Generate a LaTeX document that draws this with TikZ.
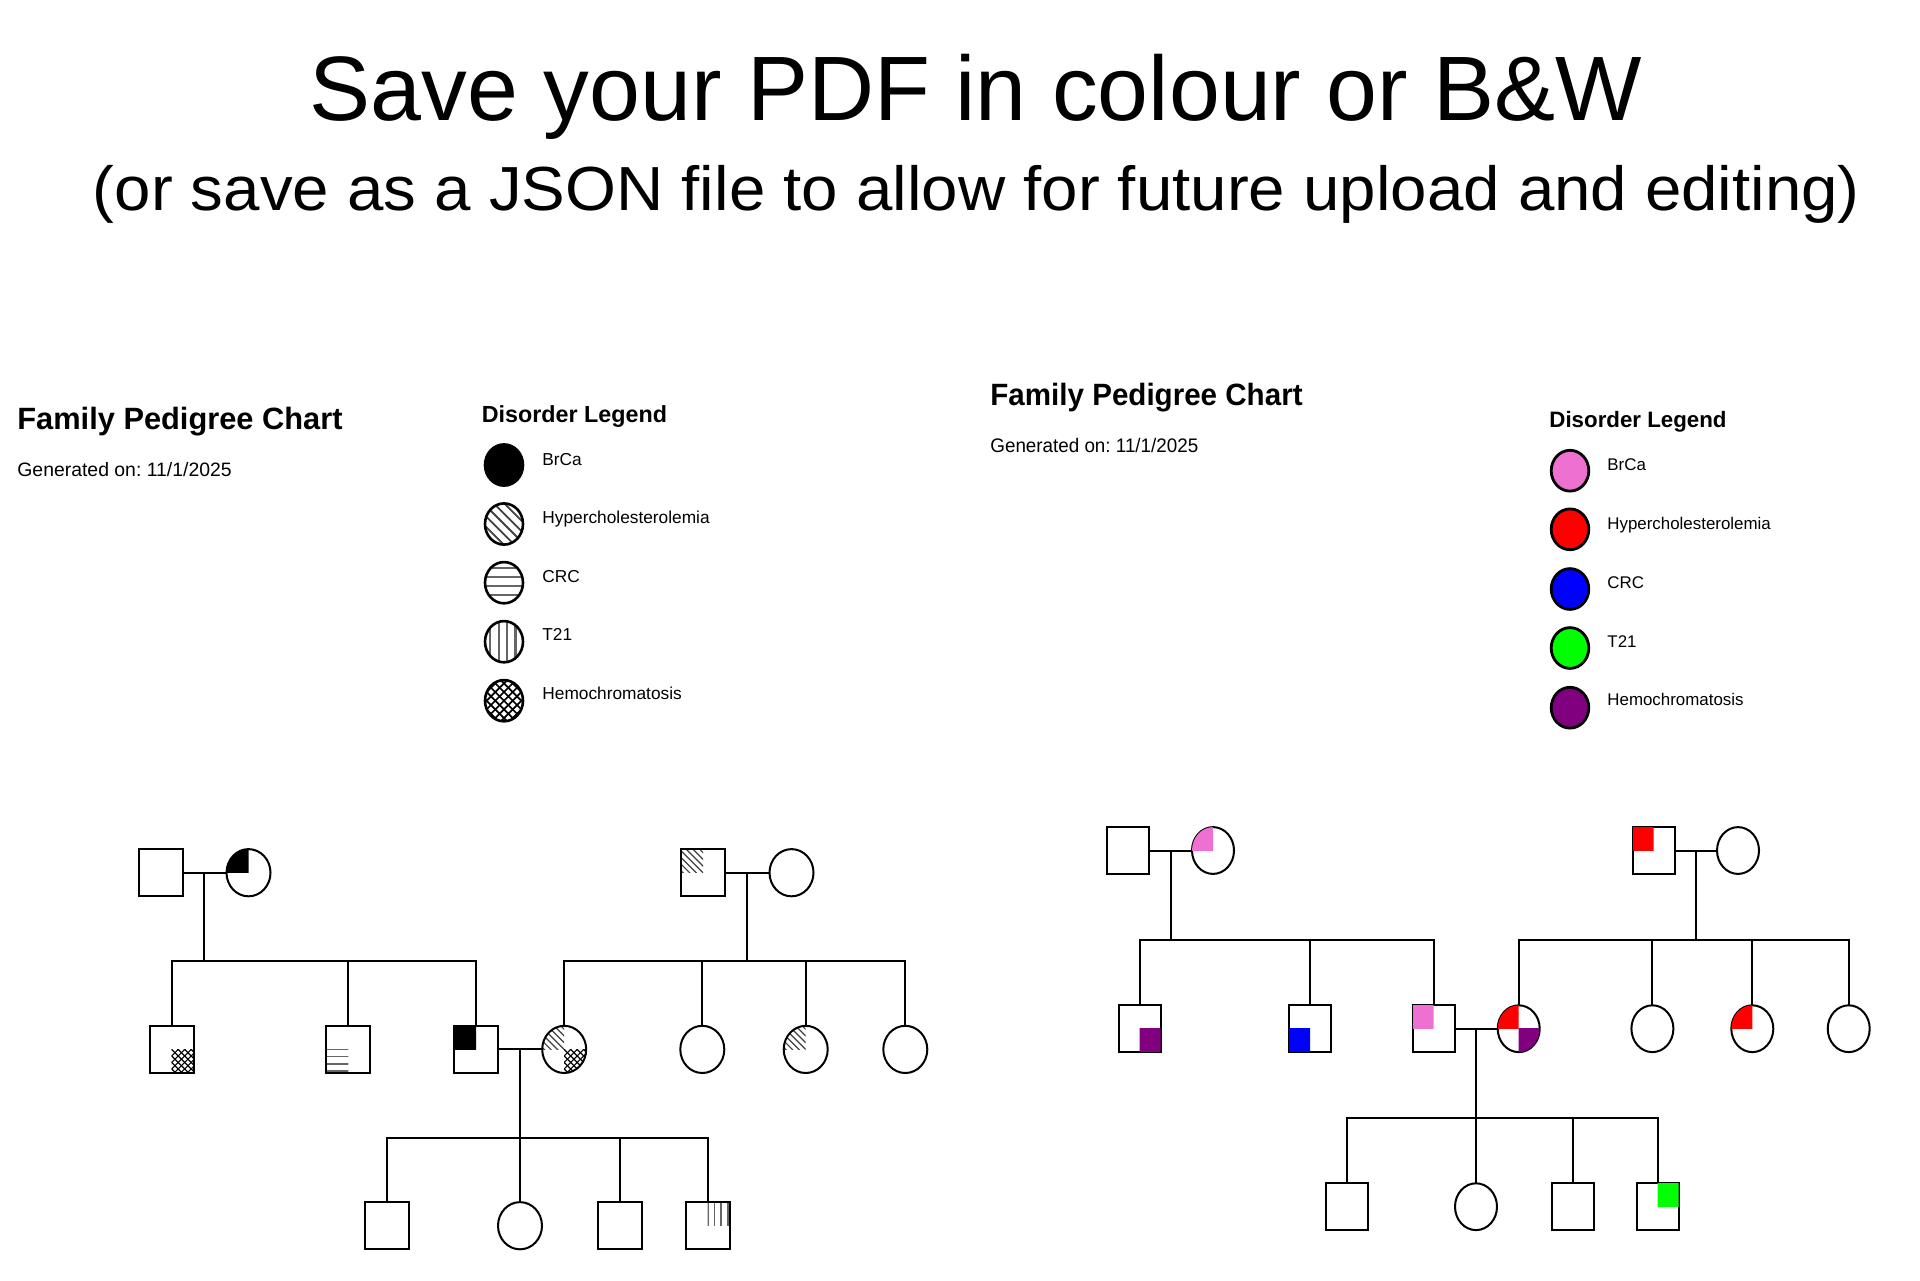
\documentclass[tikz,border=0pt]{standalone}
\usepackage{fontspec}
\usetikzlibrary{shapes.geometric}
\setmainfont{Liberation Sans}
\newfontfamily\wideface[FakeStretch=1.05]{Liberation Sans}
\newfontfamily\narrowface[FakeStretch=0.96]{Liberation Sans}
\definecolor{brca}{RGB}{238,112,208}
\definecolor{hemo}{RGB}{128,0,128}
\def\ppb{path picture bounding box}
\newcommand{\qtr}[2]{\begin{scope}\clip (\ppb.center) rectangle (\ppb.#1); #2\end{scope}}
\newcommand{\lnfill}[1]{\fill[#1] (\ppb.south west) rectangle (\ppb.north east);}
\newcommand{\lndiag}[2]{\begin{scope}[shift={(\ppb.center)}]
	\foreach \d in {-12,...,12} \draw[black!75,line width=#2] (\d*#1-40,-40) -- (\d*#1+40,40);
	\end{scope}}
\newcommand{\lncross}[2]{\begin{scope}[shift={(\ppb.center)}]
	\foreach \d in {-12,...,12} {
		\draw[black,line width=#2] (\d*#1-40,-40) -- (\d*#1+40,40);
		\draw[black,line width=#2] (\d*#1+40,-40) -- (\d*#1-40,40);
	}
	\end{scope}}
\newcommand{\lnhor}[3][0]{\begin{scope}[shift={(\ppb.center)}]
	\foreach \d in {-4,...,4} \draw[black!60,line width=#3] (-40,\d*#2+#1) -- (40,\d*#2+#1);
	\end{scope}}
\newcommand{\lnver}[3][0]{\begin{scope}[shift={(\ppb.center)}]
	\foreach \d in {-4,...,4} \draw[black!60,line width=#3] (\d*#2+#1,-40) -- (\d*#2+#1,40);
	\end{scope}}
\tikzset{
	male/.style={draw,rectangle,inner sep=0pt,outer sep=0pt,line width=1pt,minimum width=22pt,minimum height=23.6pt},
	female/.style={male,ellipse},
	rmale/.style={male,minimum width=21pt,minimum height=23.4pt},
	rfemale/.style={rmale,ellipse},
	topfill/.style={postaction={draw=none,path picture={#1}}},
	link/.style={line width=1pt,line join=miter},
	legl/.style={female,line width=1.3pt,minimum width=19pt,minimum height=20.6pt},
	legr/.style={legl,line width=1.4pt,minimum width=18.8pt,minimum height=20.4pt},
	headline/.style={anchor=base,inner sep=0pt,font=\fontsize{45.75}{50}\selectfont},
	subline/.style={anchor=base,inner sep=0pt,font=\wideface\fontsize{31.15}{34}\selectfont},
	charttitle/.style={anchor=base west,inner sep=0pt,font=\fontsize{15.4}{18}\selectfont\bfseries},
	rcharttitle/.style={anchor=base west,inner sep=0pt,font=\narrowface\fontsize{15.4}{18}\selectfont\bfseries},
	chartdate/.style={anchor=base west,inner sep=0pt,font=\fontsize{9.7}{12}\selectfont},
	rchartdate/.style={anchor=base west,inner sep=0pt,font=\narrowface\fontsize{9.8}{12}\selectfont},
	leghead/.style={anchor=base west,inner sep=0pt,font=\fontsize{11.65}{14}\selectfont\bfseries},
	rleghead/.style={anchor=base west,inner sep=0pt,font=\fontsize{11.15}{14}\selectfont\bfseries},
	legtext/.style={anchor=base west,inner sep=0pt,font=\fontsize{8.65}{10}\selectfont},
	rlegtext/.style={anchor=base west,inner sep=0pt,font=\fontsize{8.45}{10}\selectfont},
}
\frenchspacing
\begin{document}
\begin{tikzpicture}[x=0.5pt,y=-0.5pt]
	\useasboundingbox (0,0) rectangle (1920,1280);
	% headings
	\node[headline] (head) at (976,120) {Save your PDF in colour or B\&W};
	\node[subline] (sub) at (976.5,210) {(or save as a JSON file to allow for future upload and editing)};
	% left chart text
	\node[charttitle] (ltitle) at (17,429.3) {Family Pedigree Chart};
	\node[chartdate] (ldate) at (17,476.3) {Generated on: 11/1/2025};
	\node[leghead] (llegend) at (481.5,422) {Disorder Legend};
	\node[legl,fill=black] (lc1) at (504,465) {};
	\node[legl,path picture={\lndiag{10.4}{0.9pt}}] (lc2) at (504,524) {};
	\node[legl,path picture={\lnhor[3.3]{9}{1.1pt}}] (lc3) at (504,582.7) {};
	\node[legl,path picture={\lnver[3]{8.4}{1.1pt}}] (lc4) at (504,641.7) {};
	\node[legl,path picture={\lncross{8.7}{0.85pt}}] (lc5) at (504,700.7) {};
	\node[legtext] (lt1) at (542,465) {BrCa};
	\node[legtext] (lt2) at (542,523) {Hypercholesterolemia};
	\node[legtext] (lt3) at (542,582.3) {CRC};
	\node[legtext] (lt4) at (542,640.7) {T21};
	\node[legtext] (lt5) at (542,699) {Hemochromatosis};
	% left chart generation 1
	\node[male] (lgf1) at (160.5,872.7) {};
	\node[female,path picture={\qtr{north west}{\lnfill{black}}}] (lgm1) at (248.5,872.7) {};
	\node[male,path picture={\qtr{north west}{\lndiag{6.7}{0.6pt}}}] (lgf2) at (703,872.7) {};
	\node[female] (lgm2) at (791.5,872.7) {};
	% left chart generation 2
	\node[male,path picture={\qtr{south east}{\lncross{6.5}{0.6pt}}}] (lk1) at (171.7,1049.4) {};
	\node[male,path picture={\qtr{south west}{\lnhor{7.2}{0.8pt}}}] (lk2) at (348.3,1049.4) {};
	\node[male,path picture={\qtr{north west}{\lnfill{black}}}] (lk3) at (476,1049.4) {};
	\node[female,path picture={\qtr{north west}{\lndiag{6.7}{0.6pt}}\qtr{south east}{\lncross{6.5}{0.6pt}}}] (lk4) at (564.2,1049.4) {};
	\node[female] (lk5) at (702.3,1049.4) {};
	\node[female,path picture={\qtr{north west}{\lndiag{6.7}{0.6pt}}}] (lk6) at (805.7,1049.4) {};
	\node[female] (lk7) at (905.3,1049.4) {};
	% left chart generation 3
	\node[male] (lg1) at (387,1225.7) {};
	\node[female] (lg2) at (520,1225.7) {};
	\node[male] (lg3) at (620,1225.7) {};
	\node[male,path picture={\qtr{north east}{\lnver{6.7}{0.8pt}}}] (lg4) at (707.7,1225.7) {};
	% left chart lines
	\coordinate (lbar1) at (204.3,961);
	\coordinate (lbar2) at (747,961);
	\coordinate (lbar3) at (520,1137.7);
	\draw[link] (lgf1) -- (lgm1);
	\draw[link] (lgf2) -- (lgm2);
	\draw[link] (lk3) -- (lk4);
	\draw[link] (lbar1 |- lgf1) -- (lbar1);
	\draw[link] (lbar2 |- lgf2) -- (lbar2);
	\draw[link] (lbar3 |- lk3) -- (lbar3);
	\foreach \k in {lk1,lk2,lk3} \draw[link] (\k.north) |- (lbar1);
	\foreach \k in {lk4,lk5,lk6,lk7} \draw[link] (\k.north) |- (lbar2);
	\foreach \k in {lg1,lg2,lg3,lg4} \draw[link] (\k.north) |- (lbar3);
	% right chart text
	\node[rcharttitle] (rtitle) at (990,405) {Family Pedigree Chart};
	\node[rchartdate] (rdate) at (990,452.5) {Generated on: 11/1/2025};
	\node[rleghead] (rlegend) at (1549,427.5) {Disorder Legend};
	\foreach \n/\cy/\by/\col/\txt in {1/470.7/470/brca/BrCa,2/529.3/529/red/Hypercholesterolemia,3/589/588.3/blue/CRC,4/648/647/green/T21,5/707.7/705.7/hemo/Hemochromatosis} {
		\node[legr,fill=\col] (rc\n) at (1570,\cy) {};
		\node[rlegtext] (rt\n) at (1607,\by) {\txt};
	}
	% right chart generation 1
	\node[rmale] (rgf1) at (1128,850.5) {};
	\node[rfemale,topfill={\qtr{north west}{\lnfill{brca}}}] (rgm1) at (1213,850.5) {};
	\node[rmale,topfill={\qtr{north west}{\lnfill{red}}}] (rgf2) at (1653.5,850.5) {};
	\node[rfemale] (rgm2) at (1738,850.5) {};
	% right chart generation 2
	\node[rmale,topfill={\qtr{south east}{\lnfill{hemo}}}] (rk1) at (1139.5,1028.7) {};
	\node[rmale,topfill={\qtr{south west}{\lnfill{blue}}}] (rk2) at (1310,1028.7) {};
	\node[rmale,topfill={\qtr{north west}{\lnfill{brca}}}] (rk3) at (1433.7,1028.7) {};
	\node[rfemale,topfill={\qtr{north west}{\lnfill{red}}\qtr{south east}{\lnfill{hemo}}}] (rk4) at (1518.7,1028.7) {};
	\node[rfemale] (rk5) at (1652.4,1028.7) {};
	\node[rfemale,topfill={\qtr{north west}{\lnfill{red}}}] (rk6) at (1752.3,1028.7) {};
	\node[rfemale] (rk7) at (1848.7,1028.7) {};
	% right chart generation 3
	\node[rmale] (rg1) at (1347,1206.7) {};
	\node[rfemale] (rg2) at (1476,1206.7) {};
	\node[rmale] (rg3) at (1572.7,1206.7) {};
	\node[rmale,topfill={\qtr{north east}{\lnfill{green}}}] (rg4) at (1657.7,1206.7) {};
	% right chart lines
	\coordinate (rbar1) at (1170.6,940);
	\coordinate (rbar2) at (1696,940);
	\coordinate (rbar3) at (1476,1117.5);
	\draw[link] (rgf1) -- (rgm1);
	\draw[link] (rgf2) -- (rgm2);
	\draw[link] (rk3) -- (rk4);
	\draw[link] (rbar1 |- rgf1) -- (rbar1);
	\draw[link] (rbar2 |- rgf2) -- (rbar2);
	\draw[link] (rbar3 |- rk3) -- (rbar3);
	\foreach \k in {rk1,rk2,rk3} \draw[link] (\k.north) |- (rbar1);
	\foreach \k in {rk4,rk5,rk6,rk7} \draw[link] (\k.north) |- (rbar2);
	\foreach \k in {rg1,rg2,rg3,rg4} \draw[link] (\k.north) |- (rbar3);
\end{tikzpicture}
\end{document}
